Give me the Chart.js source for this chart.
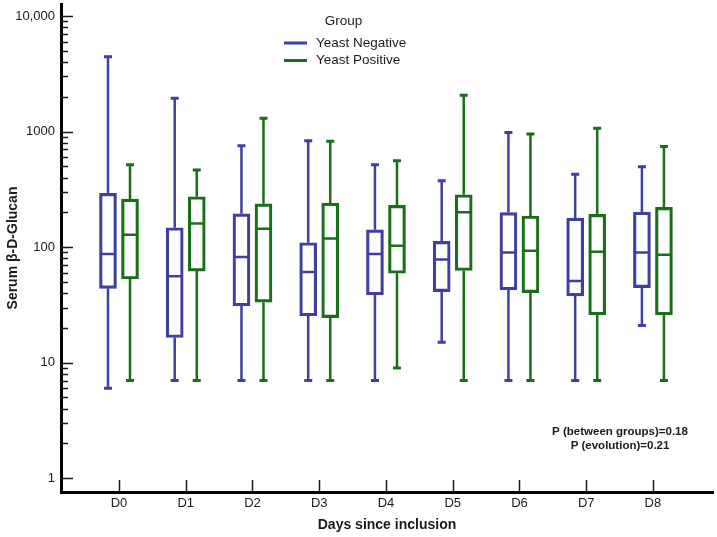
<!DOCTYPE html>
<html>
<head>
<meta charset="utf-8">
<script src="https://cdn.jsdelivr.net/npm/chart.js@4.4.1/dist/chart.umd.min.js"></script>
<style>
  html, body { margin: 0; padding: 0; background: #fff; }
  #wrap { width: 717px; height: 537px; }
</style>
</head>
<body>
<div id="wrap"><canvas id="boxChart"></canvas></div>
<script>
'use strict';

// categories and axis labels
const days = ['D0', 'D1', 'D2', 'D3', 'D4', 'D5', 'D6', 'D7', 'D8'];
const yTickValues = [1, 10, 100, 1000, 10000];
const yTickLabels = ['1', '10', '100', '1000', '10,000'];

// Yeast Negative box stats
const negMin = [6, 7, 7, 7, 7, 15, 7, 7, 21];
const negQ1  = [44, 16.5, 31, 25.4, 38.6, 41.2, 42.6, 37.8, 44.6];
const negMed = [87, 56, 82, 61, 87, 78, 90, 51, 90];
const negQ3  = [292, 147, 194, 109, 141, 112, 199, 178, 201];
const negMax = [4450, 1940, 755, 834, 517, 376, 979, 427, 497];

// Yeast Positive box stats
const posMin = [7, 7, 7, 7, 9, 7, 7, 7, 7];
const posQ1  = [53, 62, 33.4, 24.5, 59.4, 62.7, 40.4, 25.9, 25.9];
const posMed = [128, 160, 144, 119, 103, 200, 93, 91, 86];
const posQ3  = [260, 273, 237, 240, 230, 284, 186, 192, 221];
const posMax = [517, 465, 1303, 824, 560, 2060, 953, 1067, 741];

const pValueLines = ['P (between groups)=0.18', 'P (evolution)=0.21'];

const COLORS = {
  neg: '#3f3f9f',
  pos: '#1a6e1a',
  ink: '#1a1a1a',
};
const FONT = "'Liberation Sans', Arial, sans-serif";
const GROUP_OFFSET = 0.165;

const stats = [
  { min: negMin, med: negMed, max: negMax },
  { min: posMin, med: posMed, max: posMax },
];

function boxData(q1, q3, shift) {
  return days.map((d, i) => ({ x: i + shift, y: [q1[i], q3[i]] }));
}

// whiskers, caps and medians on top of the floating bars
const whiskerPlugin = {
  id: 'whiskers',
  afterDatasetsDraw(chart) {
    const ctx = chart.ctx;
    const y = chart.scales.y;
    chart.data.datasets.forEach((ds, di) => {
      const s = stats[di];
      const meta = chart.getDatasetMeta(di);
      meta.data.forEach((bar, i) => {
        const half = bar.width / 2;
        const top = Math.min(bar.y, bar.base);
        const bottom = Math.max(bar.y, bar.base);
        const yMax = y.getPixelForValue(s.max[i]);
        const yMin = y.getPixelForValue(s.min[i]);
        const yMed = y.getPixelForValue(s.med[i]);
        ctx.save();
        ctx.strokeStyle = ds.borderColor;
        ctx.lineWidth = 2.5;
        ctx.beginPath();
        ctx.moveTo(bar.x, top); ctx.lineTo(bar.x, yMax);
        ctx.moveTo(bar.x, bottom); ctx.lineTo(bar.x, yMin);
        ctx.moveTo(bar.x - half + 1, yMed); ctx.lineTo(bar.x + half - 1, yMed);
        ctx.stroke();
        ctx.lineWidth = 3;
        ctx.beginPath();
        ctx.moveTo(bar.x - 4, yMax); ctx.lineTo(bar.x + 4, yMax);
        ctx.moveTo(bar.x - 4, yMin); ctx.lineTo(bar.x + 4, yMin);
        ctx.stroke();
        ctx.restore();
      });
    });
  },
};

// inward tick marks, legend and p-value note
const decorPlugin = {
  id: 'decor',
  afterDraw(chart) {
    const ctx = chart.ctx;
    const { left, bottom } = chart.chartArea;
    const x = chart.scales.x;
    const y = chart.scales.y;
    ctx.save();
    ctx.strokeStyle = COLORS.ink;
    ctx.lineWidth = 1.5;
    ctx.beginPath();
    for (let p = 1; p <= 10000; p *= 10) {
      for (let m = 1; m <= 9; m++) {
        const v = p * m;
        if (v > y.max || v < y.min) continue;
        const py = Math.round(y.getPixelForValue(v)) + 0.5;
        ctx.moveTo(left, py);
        ctx.lineTo(left + (m === 1 ? 12 : 7), py);
      }
    }
    days.forEach((d, i) => {
      const px = Math.round(x.getPixelForValue(i)) + 0.5;
      ctx.moveTo(px, bottom);
      ctx.lineTo(px, bottom - 12);
    });
    ctx.stroke();

    // legend
    ctx.fillStyle = COLORS.ink;
    ctx.font = '13.5px ' + FONT;
    ctx.textBaseline = 'middle';
    ctx.textAlign = 'center';
    ctx.fillText('Group', 343.5, 21);
    ctx.textAlign = 'left';
    chart.data.datasets.forEach((ds, i) => {
      const ly = 43 + i * 17.5;
      ctx.strokeStyle = ds.borderColor;
      ctx.lineWidth = 3;
      ctx.beginPath();
      ctx.moveTo(284, ly);
      ctx.lineTo(307, ly);
      ctx.stroke();
      ctx.fillText(ds.label, 316, ly);
    });

    // p-values
    ctx.font = 'bold 11.5px ' + FONT;
    ctx.textAlign = 'center';
    pValueLines.forEach((t, i) => ctx.fillText(t, 620, 432 + i * 14));
    ctx.restore();
  },
};

const ctx = document.getElementById('boxChart');
new Chart(ctx, {
  type: 'bar',
  data: {
    datasets: [
      {
        label: 'Yeast Negative',
        data: boxData(negQ1, negQ3, -GROUP_OFFSET),
        borderColor: COLORS.neg,
        backgroundColor: 'rgba(255,255,255,0)',
      },
      {
        label: 'Yeast Positive',
        data: boxData(posQ1, posQ3, GROUP_OFFSET),
        borderColor: COLORS.pos,
        backgroundColor: 'rgba(255,255,255,0)',
      },
    ],
  },
  options: {
    responsive: true,
    maintainAspectRatio: false,
    animation: false,
    grouped: false,
    barThickness: 17,
    borderWidth: 2.5,
    borderSkipped: false,
    layout: { padding: { top: 4, right: 4, left: 0, bottom: 0 } },
    plugins: {
      legend: { display: false },
      tooltip: { enabled: false },
    },
    scales: {
      x: {
        type: 'linear',
        offset: false,
        min: -0.869,
        max: 8.9,
        afterBuildTicks: s => { s.ticks = days.map((d, i) => ({ value: i })); },
        afterFit: s => { s.height = 45; s.paddingLeft = 0; s.paddingRight = 0; },
        ticks: {
          callback: v => days[v],
          color: COLORS.ink,
          padding: 4,
          maxRotation: 0,
          font: { family: FONT, size: 13 },
        },
        grid: { display: false, drawTicks: false },
        border: { display: true, width: 3, color: '#000' },
        title: {
          display: true,
          text: 'Days since inclusion',
          color: COLORS.ink,
          padding: { top: 0, bottom: 3.6 },
          font: { family: FONT, size: 14, weight: 'bold' },
        },
      },
      y: {
        type: 'logarithmic',
        min: 0.76,
        max: 12700,
        afterBuildTicks: s => { s.ticks = yTickValues.map(v => ({ value: v })); },
        afterFit: s => { s.width = 61; s.paddingTop = 0; s.paddingBottom = 0; },
        ticks: {
          callback: v => yTickLabels[yTickValues.indexOf(v)],
          color: COLORS.ink,
          padding: 6,
          font: { family: FONT, size: 13 },
        },
        grid: { display: false, drawTicks: false },
        border: { display: true, width: 3, color: '#000' },
        title: {
          display: true,
          text: 'Serum β-D-Glucan',
          color: COLORS.ink,
          padding: { top: 4.6, bottom: 0 },
          font: { family: FONT, size: 14, weight: 'bold' },
        },
      },
    },
  },
  plugins: [whiskerPlugin, decorPlugin],
});
</script>
</body>
</html>
